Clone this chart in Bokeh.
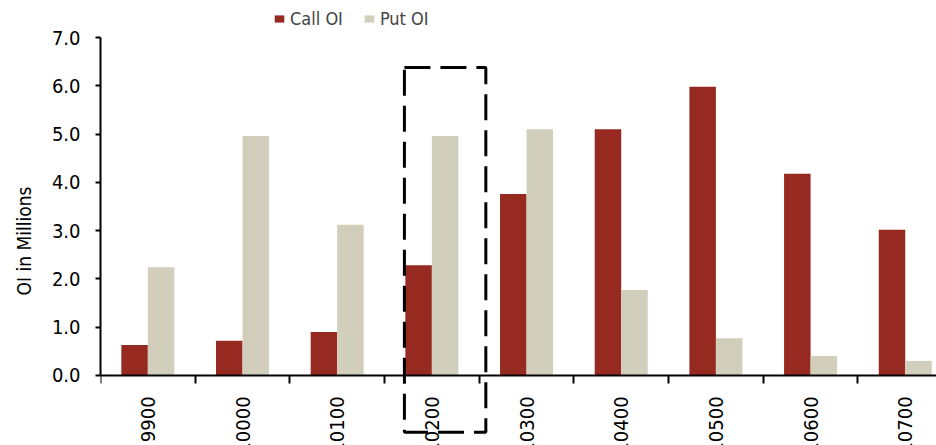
from bokeh.plotting import figure
from bokeh.models import (Range1d, FixedTicker, PrintfTickFormatter, BoxAnnotation,
                          Legend, LegendItem, ColumnDataSource)
from bokeh.embed import file_html
from bokeh.resources import INLINE
import math

# ---- data ----
strikes = ["9900", "10000", "10100", "10200", "10300", "10400", "10500", "10600", "10700"]
call_oi = [0.63, 0.72, 0.90, 2.28, 3.76, 5.10, 5.98, 4.18, 3.02]
put_oi = [2.24, 4.96, 3.12, 4.96, 5.10, 1.77, 0.77, 0.40, 0.30]
y_ticks = [0, 1, 2, 3, 4, 5, 6, 7]
highlight = "10200"

FONT = "DejaVu Sans Condensed"
CALL_COLOR = "#962920"
PUT_COLOR = "#D1CFBC"
BAR_W = 0.28

centers = [i + 0.5 for i in range(len(strikes))]
src = ColumnDataSource(dict(
    xc=[c - BAR_W / 2 for c in centers],
    xp=[c + BAR_W / 2 for c in centers],
    call=call_oi, put=put_oi))

FRAME_H = 481
p = figure(width=936, height=520, frame_width=836, frame_height=FRAME_H,
           min_border_left=100, min_border_top=0, min_border_right=0, min_border_bottom=0,
           x_range=Range1d(0, 8.83), y_range=Range1d(-2.2, 7.77),
           output_backend="svg", toolbar_location=None)
p.outline_line_color = None
p.xgrid.visible = False
p.ygrid.visible = False
p.background_fill_color = "white"
p.border_fill_color = "white"

r_call = p.vbar(x="xc", top="call", width=BAR_W, source=src, fill_color=CALL_COLOR,
                line_color=None)
r_put = p.vbar(x="xp", top="put", width=BAR_W, source=src, fill_color=PUT_COLOR,
               line_color=None)

# x axis drawn at y = 0
xa = p.xaxis[0]
xa.fixed_location = 0
xa.ticker = FixedTicker(ticks=centers, minor_ticks=list(range(len(strikes) + 1)))
xa.major_label_overrides = {c: s for c, s in zip(centers, strikes)}
xa.major_label_orientation = math.pi / 2
xa.major_tick_out = 0
xa.major_tick_in = 0
xa.minor_tick_out = 8
xa.minor_tick_in = 0
xa.minor_tick_line_width = 2
xa.minor_tick_line_color = "black"
xa.axis_line_width = 2
xa.axis_line_color = "black"
xa.major_label_standoff = 13
xa.major_label_text_font = FONT
xa.major_label_text_font_size = "20px"
xa.major_label_text_color = "black"

# y axis
ya = p.yaxis[0]
ya.bounds = (0, 7)
ya.ticker = FixedTicker(ticks=y_ticks)
ya.formatter = PrintfTickFormatter(format="%.1f")
ya.major_tick_out = 5
ya.major_tick_in = 0
ya.minor_tick_out = 0
ya.minor_tick_in = 0
ya.major_tick_line_width = 2
ya.axis_line_width = 2
ya.axis_line_color = "black"
ya.major_label_standoff = 15
ya.major_label_text_font = FONT
ya.major_label_text_font_size = "20px"
ya.major_label_text_color = "black"
ya.axis_label = "OI in Millions"
ya.axis_label_text_font = FONT
ya.axis_label_text_font_size = "19px"
ya.axis_label_text_font_style = "normal"
ya.axis_label_text_color = "black"
ya.axis_label_standoff = 14

# highlight box around the 10200 strike
hi = strikes.index(highlight)
box = BoxAnnotation(left=hi + 0.21, right=hi + 1.07, bottom=-1.18, top=6.38,
                    fill_alpha=0, line_color="black", line_alpha=1, line_width=3,
                    line_dash="26 10")
p.add_layout(box)

legend = Legend(items=[LegendItem(label="Call OI", renderers=[r_call]),
                       LegendItem(label="Put OI", renderers=[r_put])],
                orientation="horizontal", location=(173, FRAME_H - 29),
                border_line_color=None, background_fill_alpha=0,
                padding=0, margin=0, spacing=20, label_standoff=5,
                glyph_width=12, glyph_height=9,
                label_text_font=FONT, label_text_font_size="18px",
                label_height=20)
p.add_layout(legend, "center")

html = file_html(p, INLINE)
html = html.replace("<head>", "<head><style>html,body{margin:0;overflow:hidden;}</style>", 1)
open("out.html", "w").write(html)
